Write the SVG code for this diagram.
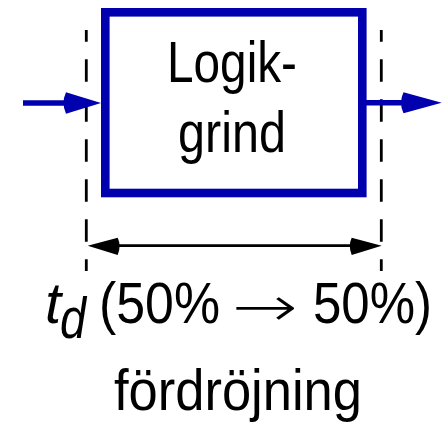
<svg xmlns="http://www.w3.org/2000/svg" width="442" height="430" viewBox="0 0 442 430">
<style>
.t{font-family:"Liberation Sans",Arial,sans-serif;font-size:58px;fill:#000}
.dash{stroke:#000;stroke-width:2.8;stroke-dasharray:22.5 17.5;stroke-dashoffset:10.7;fill:none}
.blue{stroke:#0000AF;fill:none}
</style>
<rect width="442" height="430" fill="#fff"/>
<g id="connectors">
  <line class="dash" x1="86.3" y1="30" x2="86.3" y2="271"/>
  <line class="dash" x1="381.3" y1="30" x2="381.3" y2="271"/>
  <line class="blue" x1="23" y1="103" x2="70" y2="103" stroke-width="5.5"/>
  <path d="M101,103 L66,92.3 Q61,103 66,113.7 Z" fill="#0000AF"/>
  <line class="blue" x1="366" y1="102.7" x2="405" y2="102.7" stroke-width="5.5"/>
  <path d="M441.7,102.7 L403.5,92.3 Q398.5,102.7 403.5,113.3 Z" fill="#0000AF"/>
  <line x1="110" y1="245.7" x2="360" y2="245.7" stroke="#000" stroke-width="2.7"/>
  <path d="M87.7,245.7 L117.7,237.7 Q121.5,245.7 117.7,255 Z" fill="#000"/>
  <path d="M381.7,245.7 L351.7,237.7 Q347.9,245.7 351.7,255 Z" fill="#000"/>
</g>
<g id="gate">
  <rect x="105.3" y="12.3" width="257" height="180.7" fill="#fff" stroke="#0000AF" stroke-width="8.6"/>
  <text class="t" x="167" y="82" textLength="130" lengthAdjust="spacingAndGlyphs">Logik-</text>
  <text class="t" x="178" y="152" textLength="108" lengthAdjust="spacingAndGlyphs">grind</text>
</g>
<g id="label">
  <text class="t" x="45" y="323" font-size="62" font-style="italic">t</text>
  <text class="t" x="60" y="338" font-size="58" font-style="italic" textLength="26" lengthAdjust="spacingAndGlyphs">d</text>
  <text class="t" x="99" y="323" font-size="60" textLength="121" lengthAdjust="spacingAndGlyphs">(50%</text>
  <text x="232" y="326" font-family="'DejaVu Sans',sans-serif" font-size="56" font-weight="200" textLength="66" lengthAdjust="spacingAndGlyphs">→</text>
  <text class="t" x="313" y="323" font-size="60" textLength="119" lengthAdjust="spacingAndGlyphs">50%)</text>
  <text class="t" x="114" y="410" textLength="248" lengthAdjust="spacingAndGlyphs">fördröjning</text>
</g>
</svg>
